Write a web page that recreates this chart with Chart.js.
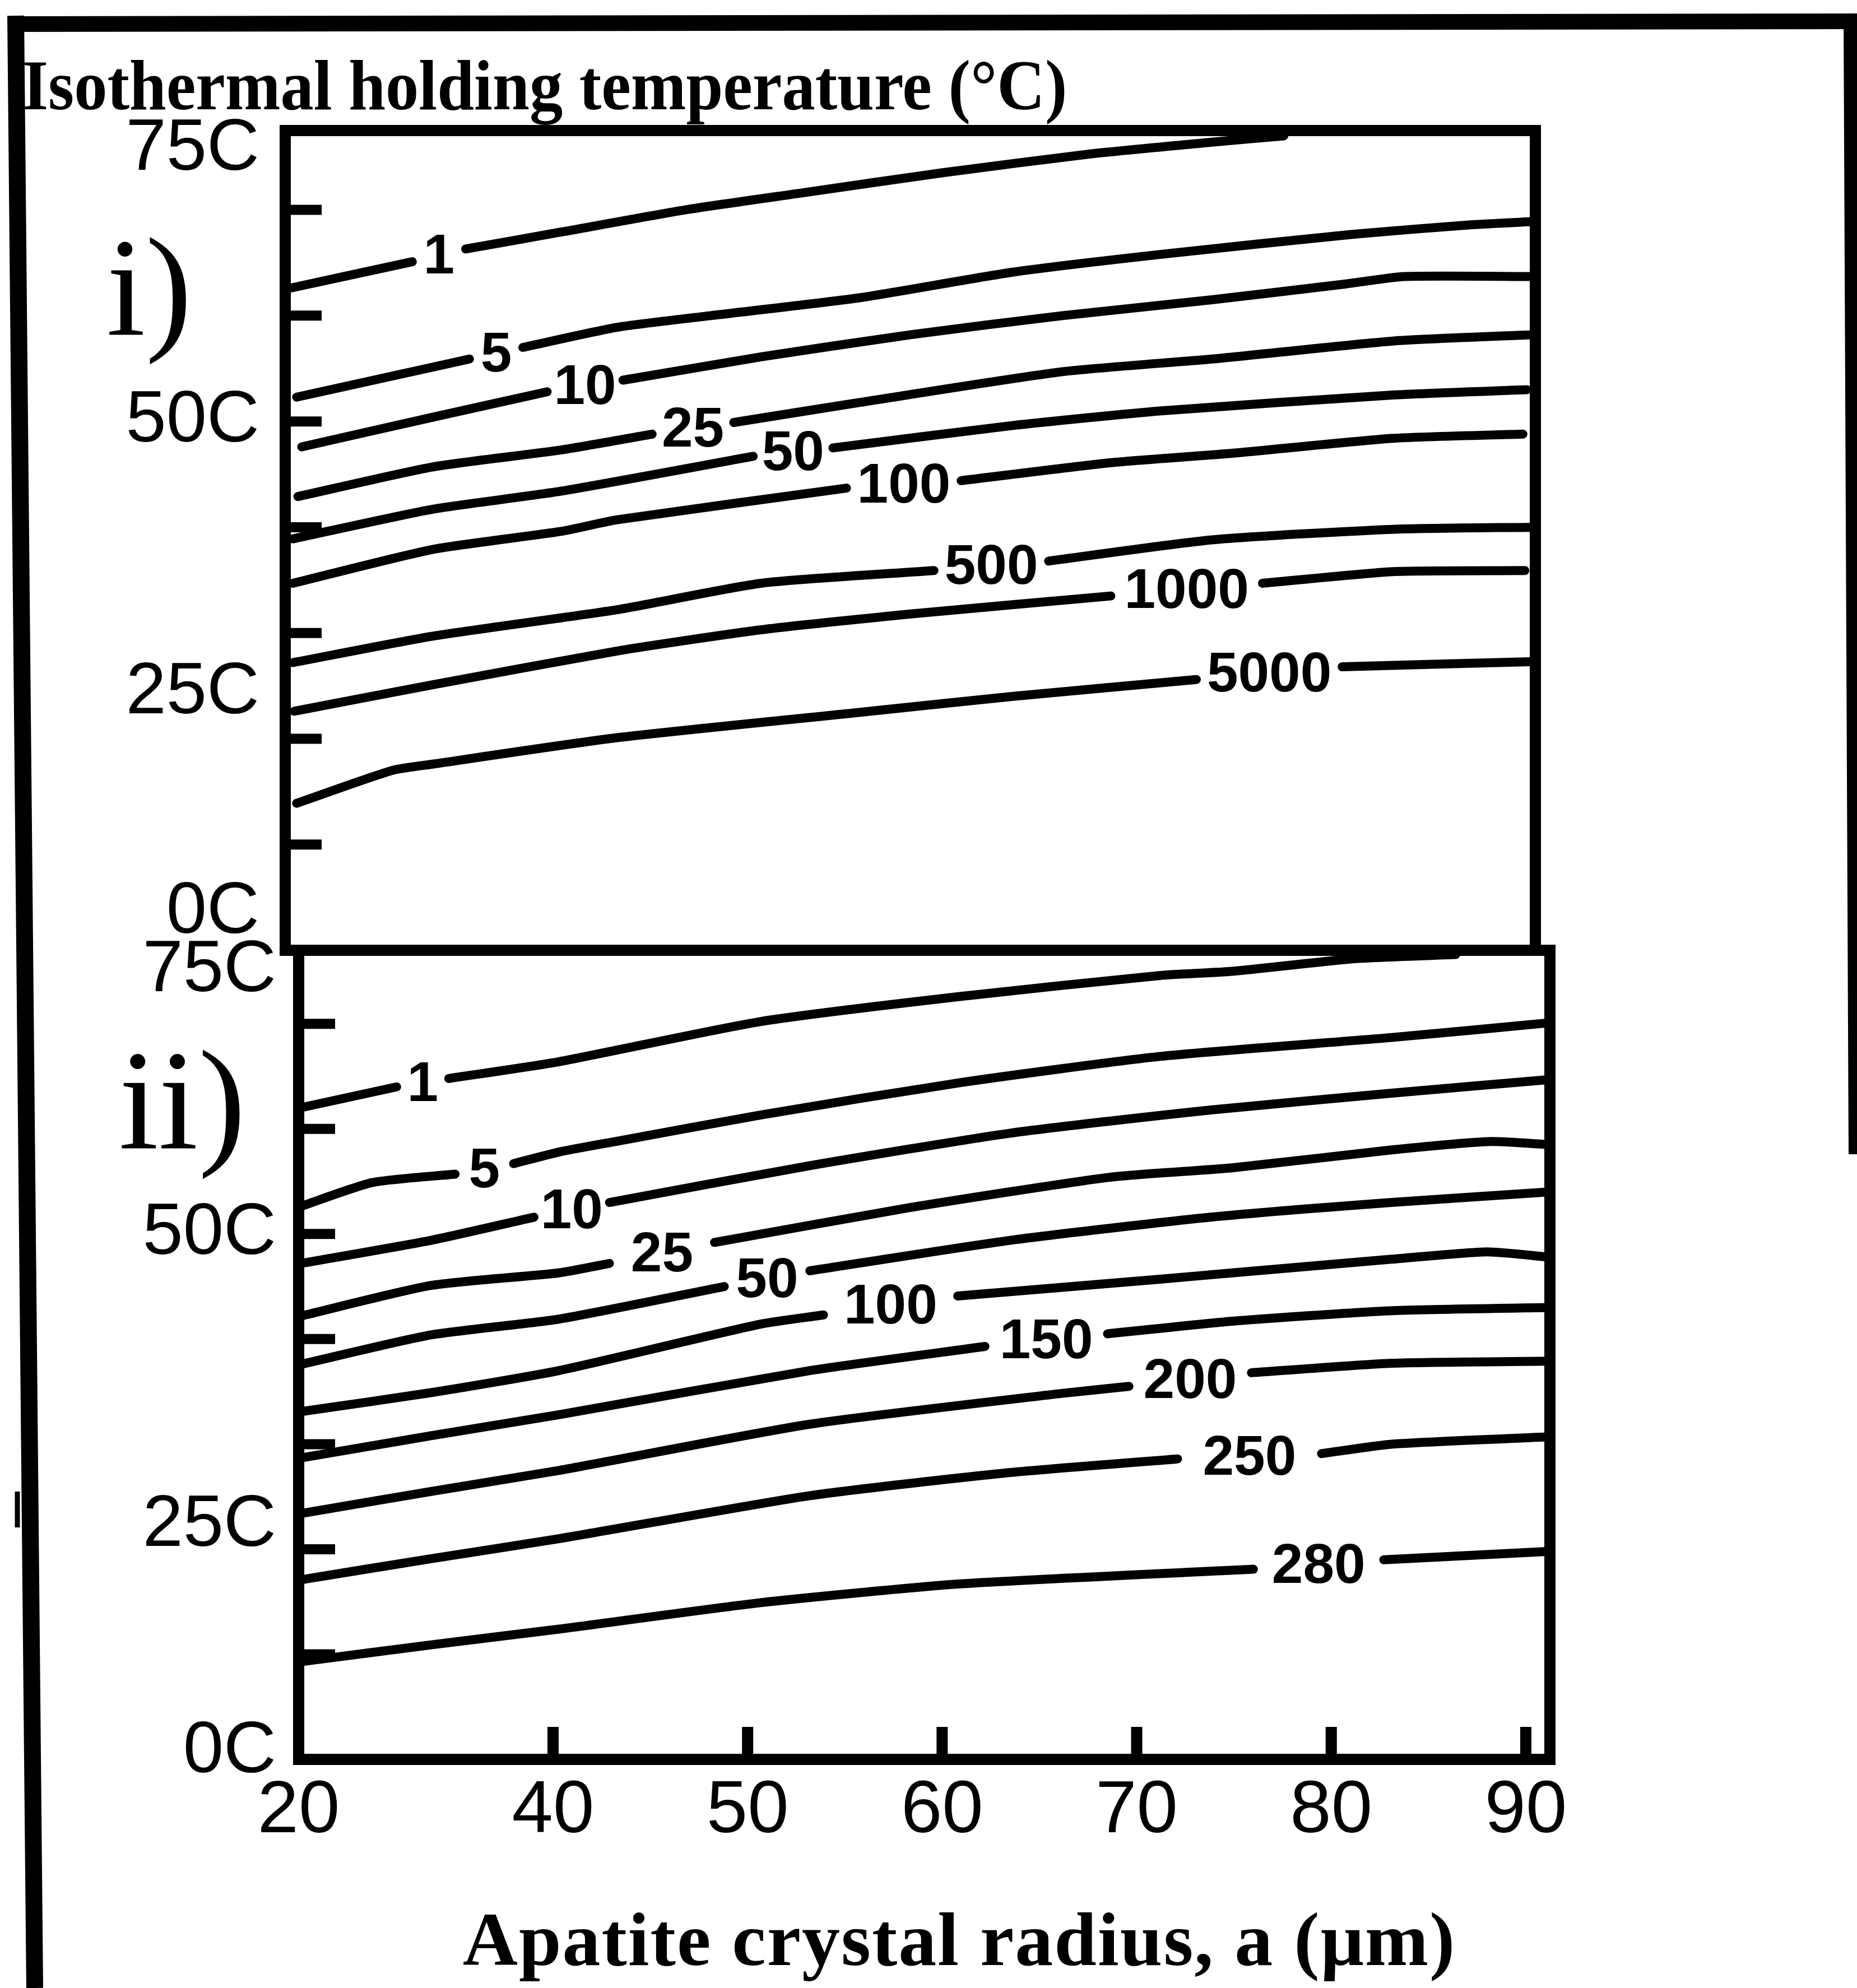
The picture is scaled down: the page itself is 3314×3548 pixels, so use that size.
<!DOCTYPE html>
<html><head><meta charset="utf-8">
<script src="https://cdn.jsdelivr.net/npm/chart.js@4.4.1/dist/chart.umd.min.js"></script>
<style>
html,body{margin:0;padding:0;background:#fff;}
#page{position:relative;width:3314px;height:3548px;overflow:hidden;background:#fff;}
canvas{position:absolute;left:0;top:0;}
.txt{position:absolute;white-space:nowrap;color:#000;}
#title{left:40px;top:90px;font:bold 126px/126px "Liberation Serif";transform:scaleX(0.94);transform-origin:0 0;}
#lab1{left:190px;top:388px;font:250px/250px "Liberation Serif";}
#lab2{left:212px;top:1837px;font:255px/255px "Liberation Serif";}
#xtitle{left:1712px;top:3393px;font:bold 136px/136px "Liberation Serif";letter-spacing:2px;transform:translateX(-50%);}
</style></head>
<body><div id="page">
<canvas id="c1" width="3314" height="3548"></canvas>
<canvas id="c2" width="3314" height="3548"></canvas>
<div class="txt" id="title">Isothermal holding temperature (°C)</div>
<div class="txt" id="lab1">i)</div>
<div class="txt" id="lab2">ii)</div>
<div class="txt" id="xtitle">Apatite crystal radius, a (μm)</div>
</div>
<script>
// ---------------- data (radius in µm, temperature in °C) ----------------
const radiusTicks = [20, 40, 50, 60, 70, 80, 90];
const innerTempTicks = [10, 20, 30, 40, 50, 60, 70];
const tempLabelValues = [0, 25, 50, 75];

// panel i) contour levels and their lines (null = gap where the label sits)
const levelsI = ['1', '5', '10', '25', '50', '100', '500', '1000', '5000'];
const i_1 = [[20.4,62.6],[30.0,65.1],null,[34.2,66.3],[41.1,67.9],[47.5,70.0],[53.5,71.6],[60.7,73.5],[68.4,75.3],[74.6,76.4],[78.3,77.0]];
const i_5 = [[20.9,52.3],[34.5,55.9],null,[38.7,57.0],[44.0,58.9],[48.8,60.0],[56.5,61.7],[64.3,64.1],[72.0,65.8],[81.9,67.7],[88.0,68.6],[91.2,68.9]];
const i_10 = [[21.3,47.6],[31.6,50.4],[40.4,52.8],null,[44.3,53.9],[51.4,56.1],[59.1,58.2],[66.9,60.0],[74.6,61.5],[81.5,63.0],[84.5,63.7],[91.2,63.7]];
const i_25 = [[21.0,42.9],[31.6,45.7],[41.1,47.3],[45.8,48.8],null,[50.0,49.9],[56.5,51.8],[66.9,54.7],[74.6,55.9],[83.9,57.6],[91.2,58.2]];
const i_50 = [[20.6,38.9],[31.6,41.7],[41.1,43.4],[51.0,46.7],null,[55.1,47.5],[64.3,49.6],[72.0,51.0],[83.9,52.5],[90.8,53.0]];
const i_100 = [[20.6,34.7],[31.6,37.9],[41.1,39.6],[44.0,40.7],[55.8,43.7],null,[61.7,44.4],[69.4,46.1],[75.7,47.0],[83.9,48.4],[90.6,48.8]];
const i_500 = [[20.6,27.2],[31.6,29.7],[44.0,32.2],[51.4,34.7],[60.3,35.9],null,[66.2,36.8],[74.6,38.8],[83.9,39.8],[91.2,40.0]];
const i_1000 = [[20.7,22.6],[31.6,25.1],[44.0,28.3],[51.4,30.3],[59.1,31.8],[69.4,33.5],null,[77.2,34.7],[83.9,35.8],[90.7,35.9]];
const i_5000 = [[20.9,13.9],[28.4,17.0],[31.6,17.6],[44.0,20.1],[56.5,22.5],[64.3,24.0],[73.8,25.6],null,[81.3,26.8],[91.2,27.3]];

// panel ii) contour levels and their lines
const levelsII = ['1', '5', '10', '25', '50', '100', '150', '200', '250', '280'];
const ii_1 = [[20.1,62.0],[27.7,64.0],null,[31.8,64.8],[40.3,66.4],[50.6,70.2],[60.9,72.6],[71.2,74.6],[74.9,75.0],[81.2,76.2],[86.4,76.6]];
const ii_5 = [[20.1,52.6],[25.8,54.9],[32.3,55.7],null,[36.9,56.7],[40.3,57.8],[43.2,58.8],[50.6,61.3],[60.9,64.4],[71.2,66.9],[83.1,68.7],[91.2,70.1]];
const ii_10 = [[20.2,47.2],[30.4,49.4],[38.5,51.6],null,[42.9,53.0],[53.2,56.5],[63.5,59.6],[73.8,61.8],[83.1,63.4],[91.2,64.7]];
const ii_25 = [[20.2,42.2],[30.4,45.1],[40.3,46.3],[42.9,47.2],null,[48.3,49.2],[58.3,52.5],[68.6,55.4],[74.9,56.3],[83.1,58.0],[88.2,58.8],[91.2,58.5]];
const ii_50 = [[20.2,37.6],[30.4,40.4],[40.3,41.9],[48.8,45.0],null,[53.2,46.5],[63.5,49.4],[73.8,51.6],[83.1,53.0],[91.2,54.0]];
const ii_100 = [[20.2,33.1],[30.4,34.9],[40.3,37.0],[50.6,41.4],[53.9,42.3],null,[60.8,44.1],[71.2,45.7],[74.9,46.3],[83.1,47.6],[88.0,48.3],[91.2,47.8]];
const ii_150 = [[20.2,28.7],[30.4,30.8],[40.3,32.8],[53.2,37.0],[62.2,39.3],null,[68.5,40.5],[74.9,41.7],[83.1,42.7],[91.2,43.0]];
const ii_200 = [[20.2,23.4],[30.4,25.5],[40.3,27.5],[53.2,31.9],[66.0,34.8],[69.6,35.5],null,[75.9,36.8],[83.1,37.7],[91.2,37.9]];
const ii_250 = [[20.2,17.1],[30.4,19.1],[40.3,21.0],[53.2,25.1],[63.5,27.3],[72.1,28.6],null,[79.5,29.1],[83.1,30.0],[91.2,30.7]];
const ii_280 = [[20.2,9.3],[30.4,10.9],[40.3,12.4],[50.6,14.9],[60.9,16.7],[76.0,18.1],null,[82.7,19.0],[91.2,19.8]];

const linesI = [i_1, i_5, i_10, i_25, i_50, i_100, i_500, i_1000, i_5000];
const linesII = [ii_1, ii_5, ii_10, ii_25, ii_50, ii_100, ii_150, ii_200, ii_250, ii_280];

// ---------------- custom radius scale (the 20–40 interval is compressed in the original) ----------------
class BrokenLinearScale extends Chart.LinearScale {
  _toDecimal(v) {
    const b = this.options.breakValue, f = this.options.breakFraction;
    if (v <= b) return (v - this.min) / (b - this.min) * f;
    return f + (v - b) / (this.max - b) * (1 - f);
  }
  getPixelForValue(value) {
    if (value === null || value === undefined || isNaN(value)) return NaN;
    return this.getPixelForDecimal(this._toDecimal(value));
  }
  getValueForPixel(pixel) {
    const d = this.getDecimalForPixel(pixel);
    const b = this.options.breakValue, f = this.options.breakFraction;
    if (d <= f) return this.min + d / f * (b - this.min);
    return b + (d - f) / (1 - f) * (this.max - b);
  }
}
BrokenLinearScale.id = 'brokenLinear';
BrokenLinearScale.defaults = {};
Chart.register(BrokenLinearScale);

Chart.defaults.font.family = "'Liberation Sans', Arial, sans-serif";
Chart.defaults.color = '#000';

function toPoints(pairs) {
  return pairs.map((p, i) => p === null ? { x: pairs[i - 1][0], y: null } : { x: p[0], y: p[1] });
}
function makeDatasets(levels, lines) {
  return lines.map((pairs, k) => ({
    label: levels[k],
    data: toPoints(pairs),
    borderColor: '#000',
    borderWidth: 16,
    pointRadius: 0,
    tension: 0.2,
    fill: false,
    spanGaps: false,
    borderCapStyle: 'round',
    borderJoinStyle: 'round'
  }));
}

// frame, inner tick marks and contour labels
const decor = {
  id: 'decor',
  afterDatasetsDraw(chart, args, opts) {
    const { ctx, chartArea: a, scales } = chart;
    ctx.save();
    ctx.strokeStyle = '#000';
    ctx.fillStyle = '#000';
    ctx.lineCap = 'butt';
    ctx.lineWidth = 20;
    ctx.strokeRect(a.left, a.top, a.right - a.left, a.bottom - a.top);
    ctx.lineWidth = 18;
    (opts.yTicks || []).forEach(v => {
      const y = scales.y.getPixelForValue(v);
      ctx.beginPath(); ctx.moveTo(a.left, y); ctx.lineTo(a.left + 65, y); ctx.stroke();
    });
    ctx.lineWidth = 20;
    (opts.xTicks || []).forEach(v => {
      const x = scales.x.getPixelForValue(v);
      ctx.beginPath(); ctx.moveTo(x, a.bottom); ctx.lineTo(x, a.bottom - 58); ctx.stroke();
    });
    ctx.font = "bold 100px 'Liberation Sans'";
    ctx.textAlign = 'center';
    ctx.textBaseline = 'middle';
    chart.data.datasets.forEach((ds, di) => {
      const gi = ds.data.findIndex(p => p.y === null);
      if (gi < 1) return;
      const pts = chart.getDatasetMeta(di).data;
      const p0 = pts[gi - 1], p1 = pts[gi + 1];
      ctx.fillText(ds.label, (p0.x + p1.x) / 2, (p0.y + p1.y) / 2 + 5);
    });
    ctx.restore();
  }
};

// outer border of the figure
const outerFrame = {
  id: 'outerFrame',
  afterDraw(chart) {
    const ctx = chart.ctx;
    ctx.save();
    ctx.strokeStyle = '#000';
    ctx.lineCap = 'butt';
    ctx.lineWidth = 28;
    ctx.beginPath(); ctx.moveTo(14, 43); ctx.lineTo(3314, 38); ctx.stroke();
    ctx.lineWidth = 30;
    ctx.beginPath(); ctx.moveTo(28, 28); ctx.lineTo(62, 3548); ctx.stroke();
    ctx.lineWidth = 24;
    ctx.beginPath(); ctx.moveTo(3302, 28); ctx.lineTo(3311, 2060); ctx.stroke();
    ctx.lineWidth = 9;
    ctx.beginPath(); ctx.moveTo(31, 2662); ctx.lineTo(31, 2726); ctx.stroke();
    ctx.restore();
  }
};

const xScaleBase = { type: 'brokenLinear', min: 20, max: 91.24, breakValue: 40, breakFraction: 0.2033 };

// ---------------- panel i ----------------
new Chart(document.getElementById('c1'), {
  type: 'line',
  data: { datasets: makeDatasets(levelsI, linesI) },
  options: {
    responsive: false, animation: false, events: [],
    layout: { padding: { left: 0, top: 233, right: 574, bottom: 1852 } },
    plugins: { legend: { display: false }, tooltip: { enabled: false },
      decor: { yTicks: innerTempTicks } },
    scales: {
      x: Object.assign({}, xScaleBase, { display: false }),
      y: {
        type: 'linear', min: 0, max: 77.5,
        afterFit(s) { s.width = 509; },
        afterBuildTicks(s) { s.ticks = tempLabelValues.map(v => ({ value: v })); },
        grid: { display: false, drawTicks: false }, border: { display: false },
        ticks: { autoSkip: false, padding: 46, color: '#000',
          font: { family: "'Liberation Sans'", size: 130, lineHeight: 0.206 },
          callback: v => v === 0 ? ['0C', '', '', '', '', ''] : v === 25 ? ['', '25C'] : v === 75 ? ['75C', ''] : v + 'C' }
      }
    }
  },
  plugins: [decor, outerFrame]
});

// ---------------- panel ii ----------------
new Chart(document.getElementById('c2'), {
  type: 'line',
  data: { datasets: makeDatasets(levelsII, linesII) },
  options: {
    responsive: false, animation: false, events: [],
    layout: { padding: { left: 0, top: 1696, right: 548, bottom: 0 } },
    plugins: { legend: { display: false }, tooltip: { enabled: false },
      decor: { yTicks: innerTempTicks, xTicks: radiusTicks.slice(1) } },
    scales: {
      x: Object.assign({}, xScaleBase, {
        afterFit(s) { s.height = 408; },
        afterBuildTicks(s) { s.ticks = radiusTicks.map(v => ({ value: v })); },
        grid: { display: false, drawTicks: false }, border: { display: false },
        ticks: { autoSkip: false, maxRotation: 0, padding: 28, color: '#000',
          font: { family: "'Liberation Sans'", size: 132, lineHeight: 1 },
          callback: v => String(v) }
      }),
      y: {
        type: 'linear', min: 0, max: 77,
        afterFit(s) { s.width = 533; },
        afterBuildTicks(s) { s.ticks = tempLabelValues.map(v => ({ value: v })); },
        grid: { display: false, drawTicks: false }, border: { display: false },
        ticks: { autoSkip: false, padding: 40, color: '#000',
          font: { family: "'Liberation Sans'", size: 130, lineHeight: 0.2 },
          callback: v => v === 0 ? ['0C', ''] : v === 25 ? ['', '', '', '', '25C'] : v + 'C' }
      }
    }
  },
  plugins: [decor]
});
</script>
</body></html>
